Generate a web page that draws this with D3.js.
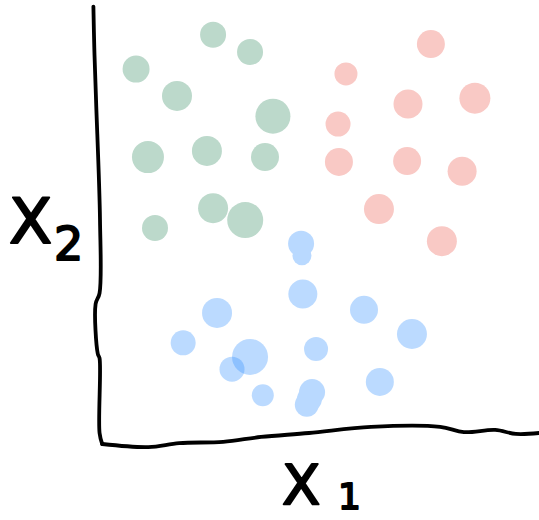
<!DOCTYPE html>
<html>
<head>
<meta charset="utf-8">
<script src="https://cdn.jsdelivr.net/npm/d3@7"></script>
<style>
  body { margin: 0; background: #fff; }
  svg { display: block; }
</style>
</head>
<body>
<div id="drawing"></div>
<script>
const width = 539;
const height = 520;

// cluster points: x1, x2 in data units (0-100), size = radius-ish, blob = blobs drawn as one shape
const greenPoints = [
  {x: 25.7, y: 93.0, size: 13}, {x: 34.1, y: 89.1, size: 13}, {x: 8.2, y: 85.2, size: 13.5},
  {x: 17.5, y: 79.1, size: 15}, {x: 39.3, y: 74.5, size: 17.5}, {x: 10.9, y: 65.2, size: 16},
  {x: 24.3, y: 66.6, size: 15}, {x: 37.5, y: 65.2, size: 14}, {x: 25.7, y: 53.6, size: 15},
  {x: 33.0, y: 50.9, size: 18}, {x: 12.5, y: 49.1, size: 13}
];
const pinkPoints = [
  {x: 75.2, y: 90.9, size: 14}, {x: 55.9, y: 84.1, size: 11.5}, {x: 70.0, y: 77.3, size: 14.5},
  {x: 85.2, y: 78.6, size: 15.5}, {x: 54.1, y: 72.7, size: 12.5}, {x: 54.3, y: 64.1, size: 14},
  {x: 69.8, y: 64.3, size: 14}, {x: 82.3, y: 62.0, size: 14.5}, {x: 63.4, y: 53.4, size: 15},
  {x: 77.7, y: 46.1, size: 15}
];
const bluePoints = [
  {x: 45.7, y: 45.5, size: 13, blob: 0}, {x: 45.9, y: 42.8, size: 9.5, blob: 0},
  {x: 46.1, y: 34.1, size: 14.5, blob: 1}, {x: 26.6, y: 29.8, size: 15, blob: 2},
  {x: 60.0, y: 30.5, size: 14, blob: 3}, {x: 70.9, y: 25.0, size: 15, blob: 4},
  {x: 18.9, y: 23.0, size: 12.5, blob: 5}, {x: 34.1, y: 19.8, size: 18, blob: 6},
  {x: 30.0, y: 17.0, size: 12.5, blob: 7}, {x: 49.1, y: 21.6, size: 12, blob: 8},
  {x: 63.6, y: 14.1, size: 14, blob: 9}, {x: 37.0, y: 11.1, size: 11, blob: 10},
  {x: 48.2, y: 11.8, size: 13, blob: 11}, {x: 47.6, y: 10.2, size: 12.5, blob: 11},
  {x: 47.0, y: 8.9, size: 12, blob: 11}
];

// hand drawn axis wobble, in data units
const yAxisLine = [[-1.5, 99.4], [-1.3, 90.2], [-0.9, 78.2], [0, 50.9], [-0.1, 34.3],
  [-1.0, 31.8], [-0.5, 20.5], [-0.1, 19.5], [-0.1, 2.5], [0.5, 0]];
const xAxisLine = [[0.5, 0], [11, -0.7], [18, 0.2], [28, 0.5], [36.6, 1.6], [47.5, 2.5],
  [61.6, 3.9], [77.3, 3.9], [82.7, 2.7], [89.8, 3.2], [94.5, 2.3], [99.8, 2.5]];

const xScale = d3.scaleLinear().domain([0, 100]).range([100, 540]);
const yScale = d3.scaleLinear().domain([0, 100]).range([444, 4]);
const rScale = d3.scaleLinear().domain([0, 20]).range([0, 20]);

const svg = d3.select("#drawing").append("svg")
  .attr("width", width)
  .attr("height", height);

function drawDots(points, color) {
  svg.append("g").selectAll("circle")
    .data(points)
    .enter()
    .append("circle")
      .attr("cx", d => xScale(d.x))
      .attr("cy", d => yScale(d.y))
      .attr("r", d => rScale(d.size))
      .style("fill", color);
}

drawDots(greenPoints, "#bcd9cb");
drawDots(pinkPoints, "#f9c9c5");

// blue ones are see-through, each blob its own group so it only darkens where blobs overlap
const blobs = d3.groups(bluePoints, d => d.blob);
svg.append("g").selectAll("g")
  .data(blobs)
  .enter()
  .append("g")
    .attr("opacity", 0.32)
  .selectAll("circle")
  .data(d => d[1])
  .enter()
  .append("circle")
    .attr("cx", d => xScale(d.x))
    .attr("cy", d => yScale(d.y))
    .attr("r", d => rScale(d.size))
    .style("fill", "#2a8cff");

const line = d3.line()
  .x(d => xScale(d[0]))
  .y(d => yScale(d[1]))
  .curve(d3.curveCatmullRom);

svg.append("path")
  .attr("d", line(yAxisLine))
  .style("fill", "none").style("stroke", "#000")
  .style("stroke-width", 3.8).style("stroke-linecap", "round");
svg.append("path")
  .attr("d", line(xAxisLine))
  .style("fill", "none").style("stroke", "#000")
  .style("stroke-width", 3.8).style("stroke-linecap", "round");

// axis labels
function label(x, y, txt, size) {
  svg.append("text")
    .attr("x", x).attr("y", y)
    .text(txt)
    .style("font-family", "DejaVu Sans")
    .style("font-size", size + "px")
    .style("fill", "#000")
    .style("stroke", "#000")
    .style("stroke-width", 2)
    .style("stroke-linejoin", "round");
}
label(9, 243, "X", 63);
label(54, 260, "2", 46);
label(282, 504, "X", 56);
label(338, 509, "1", 36);
</script>
</body>
</html>
